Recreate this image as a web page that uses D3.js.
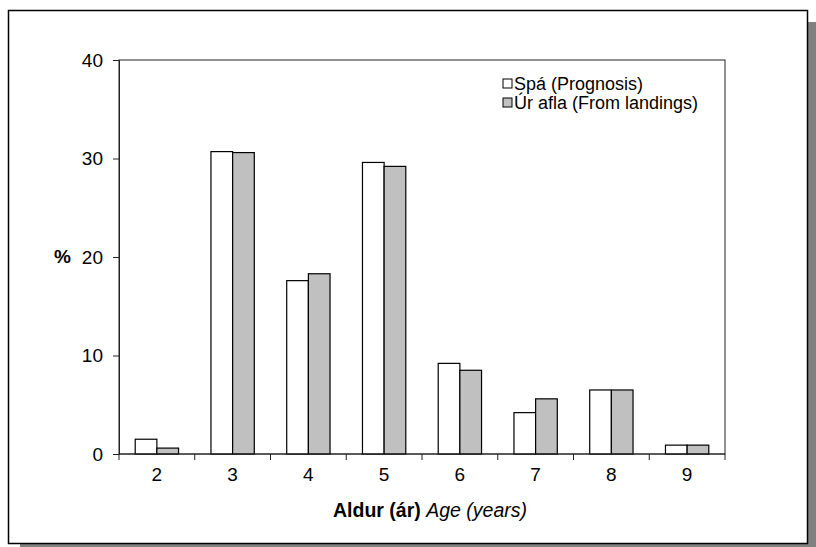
<!DOCTYPE html>
<html>
<head>
<meta charset="utf-8">
<script src="https://cdn.jsdelivr.net/npm/d3@7"></script>
<style>
  body { margin: 0; background: #fff; }
  svg { display: block; font-family: "Liberation Sans", Arial, sans-serif; }
</style>
</head>
<body>
<div id="chart"></div>
<script>
// age groups and the two series (% of catch in numbers)
var ages = ["2", "3", "4", "5", "6", "7", "8", "9"];
var prognosis = [1.5, 30.7, 17.6, 29.6, 9.2, 4.2, 6.5, 0.9];
var landings = [0.6, 30.6, 18.3, 29.2, 8.5, 5.6, 6.5, 0.9];
var yTicks = [0, 10, 20, 30, 40];
var seriesNames = ["Spá (Prognosis)", "Úr afla (From landings)"];

var W = 816, H = 547;
var margin = {top: 60, right: 91, bottom: 93, left: 119},
    width = W - margin.left - margin.right,
    height = H - margin.top - margin.bottom;

var svg = d3.select("#chart").append("svg")
    .attr("width", W)
    .attr("height", H);

// frame with drop shadow
svg.append("rect").attr("x", 20).attr("y", 22).attr("width", 796).attr("height", 525).attr("fill", "#808080");
svg.append("rect").attr("x", 8.5).attr("y", 10.5).attr("width", 799).attr("height", 533)
    .attr("fill", "#fff").attr("stroke", "#000").attr("stroke-width", 1.5);

var g = svg.append("g").attr("transform", "translate(" + margin.left + "," + margin.top + ")");

var x = d3.scaleBand().domain(ages).range([0, width]);
var y = d3.scaleLinear().domain([0, 40]).range([height, 0]);

// plot area box
g.append("rect").attr("width", width).attr("height", height)
    .attr("fill", "none").attr("stroke", "#222").attr("stroke-width", 1);

var barW = x.bandwidth() * 0.286;
var data = ages.map(function(a, i) { return {age: a, vals: [prognosis[i], landings[i]]}; });
var fills = ["#fff", "#c0c0c0"];

var groups = g.selectAll(".grp").data(data).enter().append("g")
    .attr("class", "grp")
    .attr("transform", function(d) { return "translate(" + (x(d.age) + x.bandwidth() / 2 - barW) + ",0)"; });

groups.selectAll("rect").data(function(d) { return d.vals; }).enter().append("rect")
    .attr("x", function(d, i) { return i * barW; })
    .attr("y", function(d) { return y(d); })
    .attr("width", barW)
    .attr("height", function(d) { return height - y(d); })
    .attr("fill", function(d, i) { return fills[i]; })
    .attr("stroke", "#000")
    .attr("stroke-width", 1.2);

// y axis
var yAxis = g.append("g")
    .call(d3.axisLeft(y).tickValues(yTicks).tickSize(6).tickPadding(10));
yAxis.select(".domain").attr("stroke", "#222");
yAxis.selectAll("line").attr("stroke", "#222");
yAxis.selectAll("text").style("font-size", "19px").style("fill", "#000");

// x axis: ticks between categories
var xAxis = g.append("g").attr("transform", "translate(0," + height + ")");
xAxis.append("line").attr("x1", 0).attr("x2", width).attr("stroke", "#222");
xAxis.selectAll(".tk").data(d3.range(ages.length + 1)).enter().append("line")
    .attr("x1", function(i) { return i * x.step(); })
    .attr("x2", function(i) { return i * x.step(); })
    .attr("y1", 0).attr("y2", 6).attr("stroke", "#222");
xAxis.selectAll(".lbl").data(ages).enter().append("text")
    .attr("x", function(d) { return x(d) + x.bandwidth() / 2; })
    .attr("y", 20)
    .attr("dy", "0.35em")
    .attr("text-anchor", "middle")
    .style("font-size", "19px")
    .text(function(d) { return d; });

// axis titles
var xt = svg.append("text").attr("x", margin.left + width / 2 + 8).attr("y", 517)
    .attr("text-anchor", "middle").style("font-size", "19.5px");
xt.append("tspan").attr("font-weight", "bold").text("Aldur (ár) ");
xt.append("tspan").attr("font-style", "italic").text("Age (years)");

svg.append("text").attr("x", 54).attr("y", 263)
    .attr("font-weight", "bold").style("font-size", "19px").text("%");

// legend
var leg = svg.append("g").attr("transform", "translate(503,79)");
seriesNames.forEach(function(name, i) {
  var row = leg.append("g").attr("transform", "translate(0," + (i * 19) + ")");
  row.append("rect").attr("width", 9).attr("height", 9)
      .attr("fill", fills[i]).attr("stroke", "#000").attr("stroke-width", 1);
  row.append("text").attr("x", 11).attr("y", 11).style("font-size", "18px").text(name);
});
</script>
</body>
</html>
